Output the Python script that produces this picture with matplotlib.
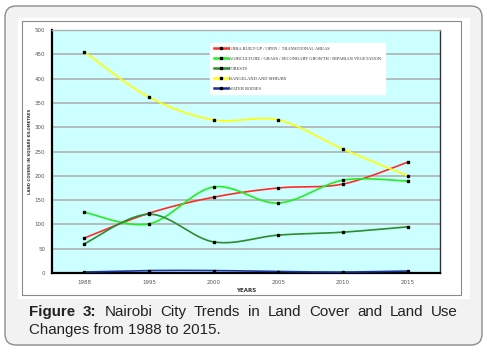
import numpy as np
import matplotlib as mpl
mpl.use('Agg')
from matplotlib import pyplot as plt
from matplotlib.patches import FancyBboxPatch, Rectangle
from matplotlib.lines import Line2D

years = ['1988', '1995', '2000', '2005', '2010', '2015']
urban = [72, 123, 156, 175, 183, 228]
agric = [125, 101, 177, 144, 191, 189]
forest = [60, 121, 64, 78, 84, 95]
range_ = [455, 362, 315, 315, 255, 200]
water = [2, 5, 5, 3, 2, 4]

labels = ['URBA BUILT-UP / OPEN /  TRANSITIONAL AREAS',
          'AGRICULTURE / GRASS / SECONDARY GROWTH / RIPARIAN VEGETATION',
          'FORESTS',
          'RANGELAND AND SHRUBS',
          'WATER BODIES']
colors = ['#ff2a2a', '#22ee22', '#2e8b2e', '#ffff00', '#1f2f9f']
series = [urban, agric, forest, range_, water]


def smooth(y, n=30):
    """excel-like smoothing (catmull-rom bezier)"""
    y = np.asarray(y, float)
    x = np.arange(len(y), dtype=float)
    P = np.column_stack([x, y])
    P = np.vstack([P[0], P, P[-1]])
    out = []
    t = np.linspace(0, 1, n)[:, None]
    for i in range(1, len(P) - 2):
        p0, p1, p2, p3 = P[i - 1], P[i], P[i + 1], P[i + 2]
        c1 = p1 + (p2 - p0) / 6
        c2 = p2 - (p3 - p1) / 6
        seg = ((1 - t)**3 * p1 + 3 * (1 - t)**2 * t * c1
               + 3 * (1 - t) * t**2 * c2 + t**3 * p2)
        out.append(seg if i == 1 else seg[1:])
    out = np.vstack(out)
    return out[:, 0], out[:, 1]


W, H = 487, 352
fig = plt.figure(figsize=(W / 100, H / 100), dpi=100)

bg = fig.add_axes([0, 0, 1, 1], zorder=-1)
bg.set_xlim(0, W)
bg.set_ylim(H, 0)
bg.axis('off')
bg.add_patch(FancyBboxPatch((5, 6), 477, 339,
                            boxstyle='round,pad=0,rounding_size=11',
                            facecolor='#f2f2f2', edgecolor='#8c8c8c', lw=1))
bg.add_patch(Rectangle((18, 18), 452, 281, facecolor='white', edgecolor='none'))
bg.add_patch(Rectangle((22, 21), 439, 274, facecolor='white',
                       edgecolor='#8a8a8a', lw=0.8))

# caption, justified first line
cap_font = dict(family='Liberation Sans', size=10.9, color='#222222')
words = [('Figure', 'bold'), ('3:', 'bold'), ('Nairobi', 'normal'),
         ('City', 'normal'), ('Trends', 'normal'), ('in', 'normal'),
         ('Land', 'normal'), ('Cover', 'normal'), ('and', 'normal'),
         ('Land', 'normal'), ('Use', 'normal')]
fig.canvas.draw()
r = fig.canvas.get_renderer()
arts = []
for w, wt in words:
    arts.append(bg.text(0, 316, w, weight=wt, va='baseline', ha='left', **cap_font))
widths = [a.get_window_extent(r).width for a in arts]
x0, x1 = 29, 458
gap = (x1 - x0 - sum(widths)) / (len(words) - 1)
xp = x0
for a, wd in zip(arts, widths):
    a.set_x(xp)
    xp += wd + gap
bg.text(29, 334, 'Changes from 1988 to 2015.', va='baseline', ha='left', **cap_font)

ax = fig.add_axes([52 / W, (H - 273) / H, (440 - 52) / W, (273 - 30) / H])
ax.set_facecolor('#ccffff')
x = np.arange(len(years))
for ys, c in zip(series, colors):
    sx, sy = smooth(ys)
    ax.plot(sx, sy, color=c, lw=1.2, zorder=3)
    ax.plot(x, ys, ls='none', marker='s', ms=1.5, color='black', zorder=4)

ax.set_xlim(-0.5, 5.5)
ax.set_ylim(0, 500)
ax.set_yticks(np.arange(0, 501, 50))
ax.set_xticks(x)
ax.set_xticklabels(years)
ax.grid(axis='y', color='#b0b0b0', lw=1.2, zorder=1)
ax.set_axisbelow(True)
ax.tick_params(length=0, labelsize=4, labelcolor='#555555')
ax.tick_params(axis='y', pad=5)
ax.tick_params(axis='x', pad=5)
for s in ['left', 'bottom']:
    ax.spines[s].set_linewidth(1.6)
    ax.spines[s].set_color('black')
ax.spines['right'].set_color('#333333')
ax.spines['right'].set_linewidth(1.0)
ax.spines['top'].set_color('#b0b0b0')
ax.spines['top'].set_linewidth(1.0)

ax.set_ylabel('LAND COVERS IN SQUARE KILOMETRES', fontsize=2.8,
              weight='bold', color='#333333', labelpad=2)
ax.set_xlabel('YEARS', fontsize=4.0, weight='bold', color='#333333', labelpad=2)

handles = [Line2D([], [], color=c, lw=1.8, marker='s', ms=1.5,
                  mfc='black', mec='black') for c in colors]
leg = ax.legend(handles, labels, loc='upper left',
                bbox_to_anchor=((210 - 52) / (440 - 52), 1 - (43 - 30) / (273 - 30)),
                prop=dict(family='Liberation Serif', size=3.25),
                frameon=True, fancybox=False, framealpha=1, edgecolor='white',
                handlelength=3.2, handletextpad=0.2, labelspacing=1.3,
                borderpad=0.8, borderaxespad=0)
for t in leg.get_texts():
    t.set_color('#333333')

fig.savefig('out.png', dpi=100)
